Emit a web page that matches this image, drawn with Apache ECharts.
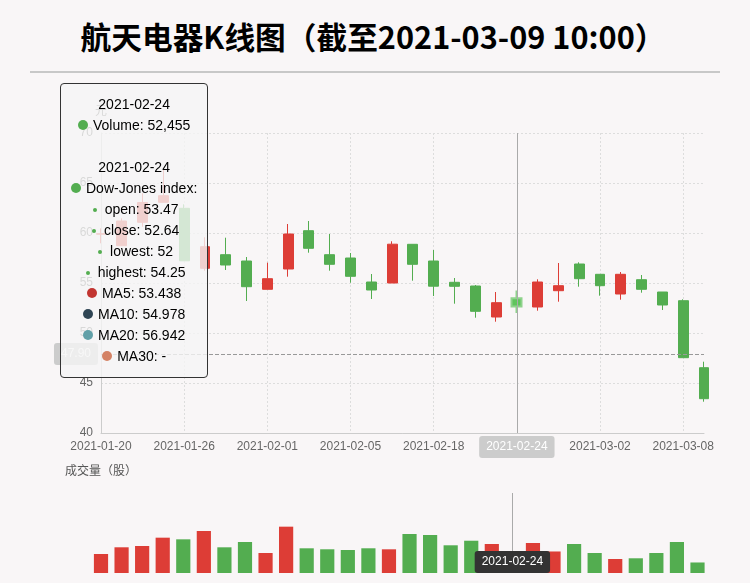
<!DOCTYPE html>
<html>
<head>
<meta charset="utf-8">
<title>航天电器K线图</title>
<script src="https://cdn.jsdelivr.net/npm/echarts@6/dist/echarts.min.js"></script>
<style>
  body { margin: 0; background: #f9f6f7; }
  .wrap { margin: 0 30px; text-align: center; }
  .title {
    height: 71px;
    line-height: 76px;
    border-bottom: 2px solid #c8c8c8;
    font: bold 30.7px 'Noto Sans CJK SC', sans-serif;
    color: #000;
    white-space: nowrap;
  }
  .title span { position: relative; top: 13px; left: -2px; }
  #kline { width: 690px; height: 500px; }
</style>
</head>
<body>
<div class="wrap">
  <div class="title"><span>航天电器K线图（截至2021-03-09 10:00）</span></div>
  <div id="kline"></div>
</div>
<script>
var FONT = "'Liberation Sans', 'Noto Sans CJK SC', sans-serif";
var UP = '#dd3d36';
var DOWN = '#53ad50';

var dates = [
  '2021-01-20', '2021-01-21', '2021-01-22', '2021-01-25', '2021-01-26',
  '2021-01-27', '2021-01-28', '2021-01-29', '2021-02-01', '2021-02-02',
  '2021-02-03', '2021-02-04', '2021-02-05', '2021-02-08', '2021-02-09',
  '2021-02-10', '2021-02-18', '2021-02-19', '2021-02-22', '2021-02-23',
  '2021-02-24', '2021-02-25', '2021-02-26', '2021-03-01', '2021-03-02',
  '2021-03-03', '2021-03-04', '2021-03-05', '2021-03-08', '2021-03-09'
];
var opens = [59.88, 58.73, 61.07, 63.07, 62.47, 56.47, 57.83, 57.20, 54.37, 56.40,
  60.23, 57.83, 57.50, 55.10, 55.00, 58.87, 57.20, 55.07, 54.70, 51.60,
  53.47, 52.60, 54.23, 56.90, 55.87, 53.90, 55.33, 54.10, 53.23, 46.53];
var closes = [59.93, 61.20, 63.05, 63.73, 57.22, 58.63, 56.80, 54.63, 55.43, 59.90,
  58.47, 56.87, 55.67, 54.30, 58.88, 56.87, 54.68, 54.67, 52.17, 53.03,
  52.64, 55.10, 54.73, 55.43, 54.73, 55.87, 54.37, 52.80, 47.53, 43.43];
var lows = [58.97, 58.73, 60.63, 63.07, 57.22, 56.23, 56.30, 53.20, 54.37, 55.63,
  58.03, 56.23, 55.03, 53.40, 55.00, 55.23, 53.70, 52.93, 51.53, 51.13,
  52.00, 52.23, 53.13, 54.63, 53.73, 53.33, 54.03, 52.30, 47.53, 43.13];
var highs = [60.47, 61.47, 63.97, 66.30, 62.87, 59.57, 59.53, 57.60, 57.03, 60.90,
  61.20, 59.90, 58.00, 55.90, 59.17, 58.87, 58.30, 55.50, 54.80, 54.10,
  54.25, 55.37, 57.00, 57.07, 55.87, 56.10, 55.80, 54.10, 53.37, 47.13];
var volumes = [47460, 64280, 67550, 88310, 84170, 105020, 64230, 77480, 49960, 115830,
  61740, 59280, 57460, 61790, 59220, 97530, 95040, 69270, 80690, 72480,
  52455, 75030, 53810, 72460, 50040, 35020, 36780, 49980, 77460, 26310];

var maNames = ['MA5', 'MA10', 'MA20', 'MA30'];
var maDays = [5, 10, 20, 30];
var maColors = ['#c23531', '#2f4554', '#61a0a8', '#d48265'];

function calculateMA(dayCount) {
  var result = [];
  for (var i = 0; i < closes.length; i++) {
    if (i < dayCount) {
      result.push('-');
      continue;
    }
    var sum = 0;
    for (var j = 0; j < dayCount; j++) {
      sum += closes[i - j];
    }
    result.push(+(sum / dayCount).toFixed(3));
  }
  return result;
}

function dirColor(i) {
  return closes[i] >= opens[i] ? UP : DOWN;
}
function bigDot(c) {
  return '<span style="display:inline-block;margin-right:5px;border-radius:10px;width:10px;height:10px;background-color:' + c + ';"></span>';
}
function subDot(c) {
  return '<span style="display:inline-block;vertical-align:middle;margin-right:8px;margin-left:3px;border-radius:4px;width:4px;height:4px;background-color:' + c + ';"></span>';
}

var candleData = [];
for (var k = 0; k < dates.length; k++) {
  candleData.push([opens[k], closes[k], lows[k], highs[k]]);
}

var chart = echarts.init(document.getElementById('kline'));

var series = [{
  name: 'Dow-Jones index',
  type: 'candlestick',
  data: candleData,
  itemStyle: { color: UP, color0: DOWN, borderColor: UP, borderColor0: DOWN },
  emphasis: {
    itemStyle: { color: '#e65a53', color0: '#5fc45c', borderColor: '#ee8e89', borderColor0: '#8fd28c', borderWidth: 2 }
  }
}];
maNames.forEach(function (n, i) {
  series.push({
    name: n,
    type: 'line',
    data: calculateMA(maDays[i]),
    symbol: 'none',
    smooth: true,
    color: maColors[i],
    lineStyle: { opacity: 0 },
    emphasis: { disabled: true }
  });
});
series.push({
  name: 'Volume',
  type: 'bar',
  xAxisIndex: 1,
  yAxisIndex: 1,
  clip: false,
  data: volumes,
  itemStyle: {
    color: function (p) { return dirColor(p.dataIndex); }
  }
});

chart.setOption({
  animation: false,
  textStyle: { fontFamily: FONT },
  tooltip: {
    trigger: 'axis',
    axisPointer: { type: 'cross' },
    alwaysShowContent: true,
    transitionDuration: 0,
    backgroundColor: 'rgba(245, 245, 245, 0.8)',
    borderWidth: 1,
    borderColor: '#333',
    padding: 10,
    textStyle: { color: '#000', fontSize: 14, fontFamily: FONT },
    extraCssText: 'box-shadow:none;text-align:center;line-height:21px;border-radius:4px;',
    position: function (pos, params, el, elRect, size) {
      var obj = { top: 10 };
      obj[['left', 'right'][+(pos[0] < size.viewSize[0] / 2)]] = 30;
      return obj;
    },
    formatter: function (params) {
      var volPart = '';
      var mainPart = '';
      params.forEach(function (p) {
        var i = p.dataIndex;
        if (p.seriesName === 'Volume') {
          volPart = p.axisValueLabel + '<br/>' + bigDot(dirColor(i)) + 'Volume: ' +
            echarts.format.addCommas(volumes[i]);
        } else if (p.seriesType === 'candlestick') {
          var c = dirColor(i);
          mainPart = p.axisValueLabel + '<br/>' + bigDot(c) + 'Dow-Jones index: <br/>' +
            subDot(c) + 'open: ' + opens[i] + '<br/>' +
            subDot(c) + 'close: ' + closes[i] + '<br/>' +
            subDot(c) + 'lowest: ' + lows[i] + '<br/>' +
            subDot(c) + 'highest: ' + highs[i] + mainPart;
        } else {
          mainPart += '<br/>' + bigDot(p.color) + p.seriesName + ': ' + p.value;
        }
      });
      return [volPart, mainPart].join('<br/><br/>');
    }
  },
  axisPointer: {
    link: [{ xAxisIndex: 'all' }]
  },
  grid: [
    { left: 71, top: 60, width: 603, height: 300 },
    { left: 71, top: 420, width: 596.5, height: 80 }
  ],
  xAxis: [{
    type: 'category',
    data: dates,
    boundaryGap: false,
    axisLine: { lineStyle: { color: '#ccc' } },
    axisTick: { show: false },
    axisLabel: { interval: 3, color: '#666', fontSize: 12 },
    splitLine: { show: true, interval: 3, lineStyle: { color: '#ddd', type: [2, 2] } },
    axisPointer: {
      lineStyle: { color: '#aaa', type: 'solid', width: 1 },
      label: { backgroundColor: '#ccc', color: '#fff' }
    }
  }, {
    type: 'category',
    gridIndex: 1,
    data: dates,
    boundaryGap: false,
    axisLine: { show: false },
    axisTick: { show: false },
    axisLabel: { show: false },
    splitLine: { show: false },
    axisPointer: {
      lineStyle: { color: '#aaa', type: 'solid', width: 1 },
      label: { backgroundColor: '#333', color: '#fff' }
    }
  }],
  yAxis: [{
    type: 'value',
    name: '元',
    min: 40,
    max: 70,
    interval: 5,
    nameTextStyle: { color: '#666', fontSize: 12 },
    axisLine: { show: true, lineStyle: { color: '#ccc' } },
    axisTick: { show: false },
    axisLabel: { color: '#666', fontSize: 12 },
    splitLine: { show: true, lineStyle: { color: '#ddd', type: [2, 2] } },
    axisPointer: {
      lineStyle: { color: '#999', type: 'dashed', width: 1 },
      label: { precision: 2, backgroundColor: '#ccc', color: '#fff' }
    }
  }, {
    type: 'value',
    gridIndex: 1,
    name: '成交量（股）',
    min: 0,
    max: 200000,
    nameTextStyle: { color: '#555', fontSize: 12 },
    axisLine: { show: false },
    axisTick: { show: false },
    axisLabel: { show: false },
    splitLine: { show: false }
  }],
  series: series
});

function showTip() {
  chart.dispatchAction({ type: 'showTip', x: 487, y: 281 });
}
showTip();
setTimeout(showTip, 60);
</script>
</body>
</html>
